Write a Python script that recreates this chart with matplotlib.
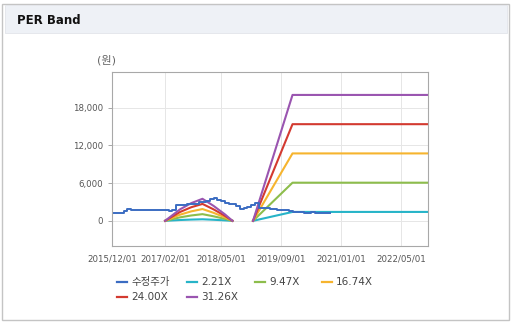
"""PER band chart: adjusted share price against price-earnings multiple bands."""

import matplotlib

matplotlib.use("Agg")
import matplotlib.pyplot as plt
import matplotlib.dates as mdates
import numpy as np
import pandas as pd
from matplotlib.lines import Line2D
from matplotlib.patches import Rectangle

plt.rcParams["font.family"] = ["DejaVu Sans", "Noto Sans CJK KR"]

# adjusted share price (원), monthly
price_dates = pd.date_range("2015-12-01", "2020-10-01", freq="MS")
price_values = [
    1200, 1200, 1250, 1500, 1850, 1750, 1700, 1800, 1750, 1650, 1700, 1750,
    1650, 1700, 1650, 1600, 1650, 2500, 2550, 2500, 2600, 2650, 2750, 3000,
    2950, 3200, 3500, 3700, 3300, 3100, 2800, 2750, 2700, 2300, 1950, 2000,
    2200, 2500, 2900, 2100, 1980, 1960, 1950, 1900, 1800, 1750, 1650, 1550,
    1400, 1350, 1380, 1250, 1300, 1330, 1280, 1300, 1250, 1300, 1300,
]

# trailing EPS used for the bands (None = negative, not drawn)
eps_dates = pd.to_datetime([
    "2017-02-01", "2017-06-01", "2017-09-01", "2017-12-01", "2018-03-01",
    "2018-06-01", "2018-08-01", "2018-10-01", "2019-01-15", "2019-12-01",
    "2022-12-01",
])
eps_values = [0, 58, 90, 112, 76, 33, 0, None, 0, 640, 640]

multiples = [2.21, 9.47, 16.74, 24.00, 31.26]
band_colors = ["#27b4c8", "#8dbd4c", "#f6b42e", "#d33a30", "#9a55b0"]
price_color = "#3b6cc2"

y_ticks = [0, 6000, 12000, 18000]
x_ticks = pd.to_datetime([
    "2015-12-01", "2017-02-01", "2018-05-01", "2019-09-01", "2021-01-01", "2022-05-01",
])

W, H = 511, 322
fig = plt.figure(figsize=(W / 100, H / 100), dpi=100)

# panel frame and header strip
fig.patches.append(Rectangle((2 / W, 2 / H), 507 / W, 316 / H, transform=fig.transFigure,
                             facecolor="none", edgecolor="#c4c4c4", linewidth=1.0, zorder=-2))
fig.patches.append(Rectangle((5 / W, 1 - 33 / H), 502 / W, 28 / H, transform=fig.transFigure,
                             facecolor="#eef1f6", edgecolor="#e2e5ea", linewidth=0.6, zorder=-1))
fig.text(17 / W, 1 - 21 / H, "PER Band", fontsize=8.5, fontweight="bold",
         va="center", ha="left", color="#111111")

ax = fig.add_axes([112.3 / W, 1 - 246 / H, 315.4 / W, 174.3 / H])

eps = np.array([np.nan if v is None else v for v in eps_values], dtype=float)
for mult, color in zip(multiples, band_colors):
    ax.plot(eps_dates, eps * mult, color=color, linewidth=1.5, solid_joinstyle="round")
ax.plot(price_dates, price_values, color=price_color, linewidth=1.4, drawstyle="steps-post")

ax.set_xlim(pd.Timestamp("2015-12-01"), pd.Timestamp("2022-12-01"))
ax.set_ylim(-4000, 23700)
ax.set_yticks(y_ticks)
ax.set_yticklabels([f"{v:,}" for v in y_ticks])
ax.set_xticks(x_ticks)
ax.xaxis.set_major_formatter(mdates.DateFormatter("%Y/%m/%d"))
ax.tick_params(axis="both", labelsize=6.2, colors="#999999", labelcolor="#555555", length=3, width=0.6)
ax.tick_params(axis="x", length=0, pad=6)
ax.grid(True, color="#e6e6e6", linewidth=0.7)
ax.set_axisbelow(True)
for spine in ax.spines.values():
    spine.set_color("#a8a8a8")
    spine.set_linewidth(0.8)

fig.text(107 / W, 1 - 60 / H, "(원)", fontsize=8, color="#666666", ha="center", va="center")

# legend, laid out in two rows
legend_labels = ["수정주가"] + [f"{m:.2f}X" for m in multiples]
legend_colors = [price_color] + band_colors
legend_pos = [(117, 282), (187, 282), (255, 282), (322, 282), (117, 297), (187, 297)]
for (lx, ly), label, color in zip(legend_pos, legend_labels, legend_colors):
    fig.add_artist(Line2D([lx / W, (lx + 10) / W], [1 - ly / H, 1 - ly / H],
                          transform=fig.transFigure, color=color, linewidth=1.6))
    fig.text((lx + 14) / W, 1 - ly / H, label, fontsize=7.5, color="#444444",
             ha="left", va="center")

fig.savefig("out.png", dpi=100)
plt.close(fig)
